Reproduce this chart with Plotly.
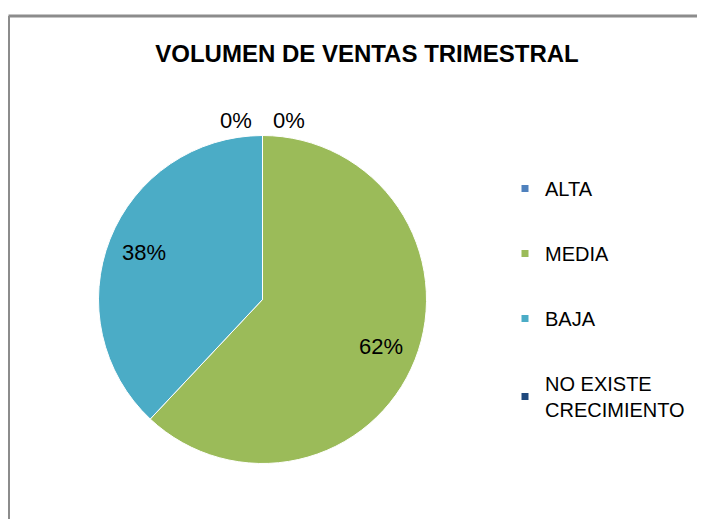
import math
import plotly.graph_objects as go

categories = ["ALTA", "MEDIA", "BAJA", "NO EXISTE CRECIMIENTO"]
legend_labels = ["ALTA", "MEDIA", "BAJA", "NO EXISTE<br>CRECIMIENTO"]
values = [0, 62, 38, 0]
colors = ["#4F81BD", "#9BBB59", "#4BACC6", "#1F497D"]

W, H = 705, 519
# pie geometry in figure pixels (page has an 8px body offset)
CX, CY, R = 254.5, 291.5, 164
FONT = "Liberation Sans, Arial, sans-serif"

fig = go.Figure()

fig.add_trace(go.Pie(
    labels=categories,
    values=values,
    sort=False,
    direction="clockwise",
    rotation=0,
    marker=dict(colors=colors, line=dict(color="white", width=1)),
    textinfo="none",
    showlegend=False,
    hoverinfo="label+percent",
    domain=dict(x=[(CX - R) / W, (CX + R) / W],
                y=[(H - CY - R) / H, (H - CY + R) / H]),
))

# data labels computed from the values
total = sum(values)
annotations = []
cum = 0.0
for i, v in enumerate(values):
    frac = v / total
    mid = (cum + frac / 2) * 2 * math.pi
    cum += frac
    txt = f"{round(frac * 100)}%"
    if v > 0:
        rr = 0.775 * R
        px = CX + rr * math.sin(mid)
        py = CY - rr * math.cos(mid)
        annotations.append(dict(x=px / W, y=1 - py / H, xref="paper", yref="paper",
                                text=txt, showarrow=False, xanchor="center", yanchor="middle",
                                font=dict(family=FONT, size=22, color="#000000")))
    else:
        px = CX + (R + 15) * math.sin(mid)
        py = CY - (R + 15) * math.cos(mid)
        left = (mid < 0.01)
        annotations.append(dict(x=px / W, y=1 - py / H, xref="paper", yref="paper",
                                text=txt, showarrow=False,
                                xanchor="left" if left else "right", yanchor="middle",
                                xshift=8 if left else -8,
                                font=dict(family=FONT, size=22, color="#000000")))

for name, col in zip(legend_labels, colors):
    fig.add_trace(go.Scatter(
        x=[None], y=[None], mode="markers", name=name,
        legendgroup=name,
        marker=dict(symbol="square", size=7, color=col),
    ))

fig.update_layout(
    width=W, height=H,
    margin=dict(l=0, r=0, t=0, b=0),
    paper_bgcolor="white", plot_bgcolor="white",
    xaxis=dict(visible=False), yaxis=dict(visible=False),
    title=dict(text="<b>VOLUMEN DE VENTAS TRIMESTRAL</b>", x=359 / W, xanchor="center",
               y=1 - 46 / H, yanchor="middle",
               font=dict(family=FONT, size=24, color="#000000")),
    legend=dict(x=497 / W, y=1 - 161 / H, xanchor="left", yanchor="top",
                font=dict(family=FONT, size=20, color="#000000"),
                tracegroupgap=36, itemwidth=30, bgcolor="rgba(0,0,0,0)"),
    annotations=annotations,
    shapes=[
        dict(type="line", xref="paper", yref="paper", x0=0.5 / W, x1=1.02, y0=1 - 8 / H, y1=1 - 8 / H,
             line=dict(color="#8C8C8C", width=3)),
        dict(type="line", xref="paper", yref="paper", x0=0.5 / W, x1=0.5 / W, y0=1 - 8 / H, y1=-0.02,
             line=dict(color="#8C8C8C", width=3)),
    ],
)

fig.write_html("out.html")
